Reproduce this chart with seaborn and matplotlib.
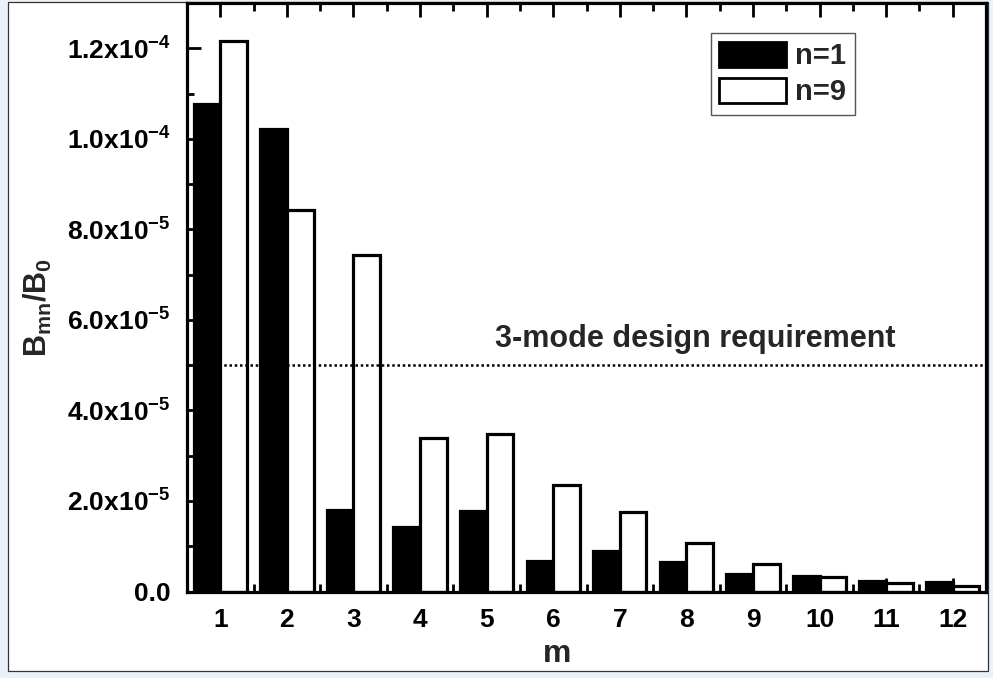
import numpy as np
import pandas as pd
import matplotlib
matplotlib.use("Agg")
import matplotlib.pyplot as plt
import seaborn as sns
from matplotlib.patches import Rectangle, Patch
from matplotlib.ticker import FuncFormatter, MultipleLocator

# ---- data (units of B0) ----
m_values = [str(i) for i in range(1, 13)]
n1_values = [10.77e-5, 10.22e-5, 1.79e-5, 1.43e-5, 1.77e-5, 0.67e-5,
             0.90e-5, 0.65e-5, 0.38e-5, 0.35e-5, 0.24e-5, 0.20e-5]
n9_values = [12.16e-5, 8.43e-5, 7.43e-5, 3.38e-5, 3.47e-5, 2.36e-5,
             1.75e-5, 1.07e-5, 0.60e-5, 0.32e-5, 0.18e-5, 0.12e-5]
series_labels = ["n=1", "n=9"]
requirement = 5.0e-5
requirement_text = "3-mode design requirement"

df = pd.DataFrame({
    "m": m_values * 2,
    "n": [series_labels[0]] * len(m_values) + [series_labels[1]] * len(m_values),
    "B": n1_values + n9_values,
})

sns.set_style("ticks")
plt.rcParams["font.family"] = ["Liberation Sans", "DejaVu Sans"]
plt.rcParams["font.weight"] = "bold"
plt.rcParams["mathtext.fontset"] = "custom"
plt.rcParams["mathtext.rm"] = "Liberation Sans:bold"
plt.rcParams["mathtext.it"] = "Liberation Sans:bold"
plt.rcParams["mathtext.bf"] = "Liberation Sans:bold"
plt.rcParams["axes.unicode_minus"] = False

W, H = 993, 678
fig = plt.figure(figsize=(W / 100, H / 100), dpi=100, facecolor="#e9f1fb")
# white panel with thin border
fig.patches.append(Rectangle((8 / W, 7 / H), (988 - 8) / W, (676 - 7) / H,
                             transform=fig.transFigure, facecolor="white",
                             edgecolor="#333333", lw=0.9, zorder=-5))

ax = fig.add_axes([187 / W, (H - 591.5) / H, (986 - 187) / W, (591.5 - 3) / H])
ax.set_zorder(1)
ax.set_facecolor("white")

palette = {series_labels[0]: "black", series_labels[1]: "white"}
sns.barplot(data=df, x="m", y="B", hue="n", palette=palette, saturation=1,
            edgecolor="black", linewidth=2.3, width=0.8, legend=False, ax=ax)

ax.set_xlim(-0.5, len(m_values) - 0.5)
ax.set_ylim(0, 1.3e-4)

# requirement line + text
ax.axhline(requirement, color="black", lw=1.8, linestyle=(0, (1, 1.1)), zorder=3)
ax.text(4.13, 5.39e-5, requirement_text, fontsize=22, fontweight="bold",
        ha="left", va="baseline")

# ticks
ax.yaxis.set_major_locator(MultipleLocator(2e-5))
ax.yaxis.set_minor_locator(MultipleLocator(1e-5))
ax.set_xticks(np.arange(-0.5, len(m_values), 1.0), minor=True)


def fmt(v, pos):
    if abs(v) < 1e-12:
        return "0.0"
    e = int(np.floor(np.log10(abs(v)) + 1e-9))
    mant = v / 10 ** e
    return rf"{mant:.1f}x10$^{{{e}}}$"


ax.yaxis.set_major_formatter(FuncFormatter(fmt))

ax.tick_params(axis="both", which="both", direction="in", width=2.0,
               colors="black")
ax.tick_params(axis="x", which="major", top=True, bottom=True, length=10,
               labelsize=19, pad=12)
ax.tick_params(axis="x", which="minor", top=True, bottom=True, length=6)
ax.tick_params(axis="y", which="major", left=True, right=False, length=10,
               labelsize=19, pad=12)
ax.tick_params(axis="y", which="minor", left=True, right=False, length=5)
for lab in ax.get_xticklabels() + ax.get_yticklabels():
    lab.set_fontweight("bold")

for s in ax.spines.values():
    s.set_visible(True)
    s.set_linewidth(2.3)
    s.set_color("black")

ax.set_xlabel("m", fontsize=23, fontweight="bold", va="baseline")
ax.xaxis.set_label_coords(0.463, -0.12)
ax.set_ylabel(r"B$_{mn}$/B$_{0}$", fontsize=22, fontweight="bold")
ax.yaxis.set_label_coords(-0.166, 0.483)

handles = [Patch(facecolor=palette[l], edgecolor="black", linewidth=2.0, label=l)
           for l in series_labels]
leg = ax.legend(handles=handles, loc="upper right", bbox_to_anchor=(0.836, 0.949),
                borderaxespad=0, fontsize=21, handlelength=2.3, handleheight=0.95,
                handletextpad=0.3, labelspacing=0.25, borderpad=0.3,
                fancybox=False, framealpha=1, edgecolor="#555555")
leg.get_frame().set_linewidth(1.0)
for t in leg.get_texts():
    t.set_fontweight("bold")

fig.savefig("out.png", dpi=100, facecolor=fig.get_facecolor())
